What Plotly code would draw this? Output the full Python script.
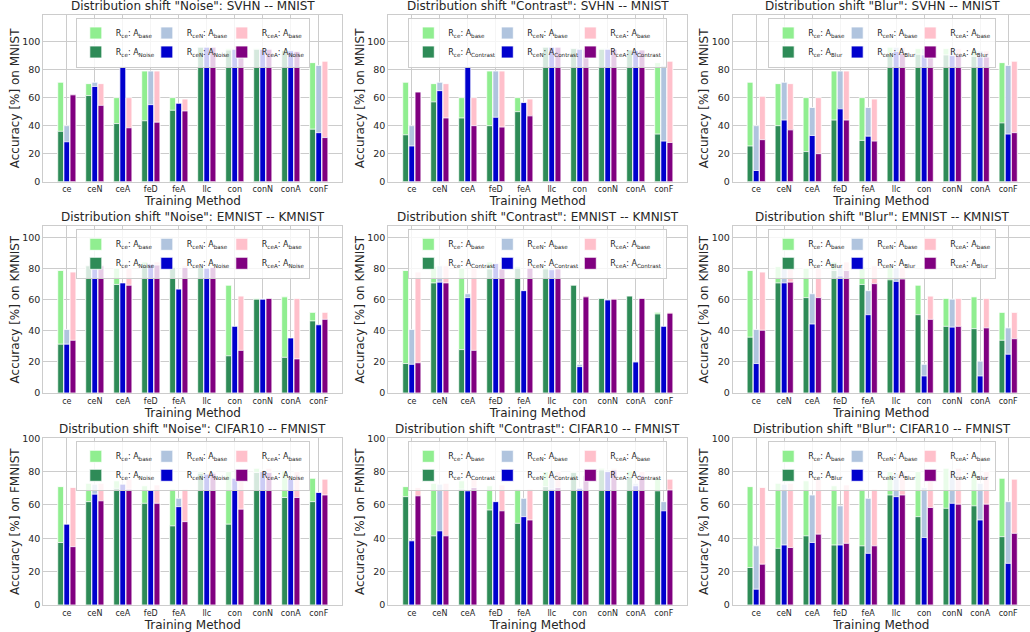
import plotly.graph_objects as go

# ---------------- data ----------------
categories = ["ce", "ceN", "ceA", "feD", "feA", "llc", "con", "conN", "conA", "conF"]
variants = ["ce", "ceN", "ceA"]
shifts = ["Noise", "Contrast", "Blur"]
pairs = ["SVHN -- MNIST", "EMNIST -- KMNIST", "CIFAR10 -- FMNIST"]
targets = ["MNIST", "KMNIST", "FMNIST"]
y_max = [119, 107.5, 100]

# Row 1: SVHN -- MNIST
svhn_base_ce = [71, 70, 60, 79, 60, 96, 95, 95, 94, 85]
svhn_base_ceN = [40, 71, 53, 79, 53, 96, 95, 95, 93.5, 83]
svhn_base_ceA = [61, 70, 60, 79, 59, 96, 95, 95, 93.5, 86]
svhn_noise_ce = [36, 61.5, 41.5, 43.5, 51, 96, 94, 94.5, 93.5, 37.5]
svhn_noise_ceN = [28.5, 68, 82, 55, 56, 96, 94.5, 94.5, 93.5, 35]
svhn_noise_ceA = [62, 54.5, 38.5, 42.5, 50.5, 96, 94, 94.5, 93, 31.5]
svhn_contrast_ce = [33.5, 57, 45.5, 40, 50, 96, 95, 94.5, 94, 34]
svhn_contrast_ceN = [25.5, 65, 82, 46, 56.5, 96, 94.5, 94.5, 93.5, 29]
svhn_contrast_ceA = [64, 45.5, 40, 39, 47, 96, 94.5, 94.5, 94, 28]
svhn_blur_ce = [25.5, 40, 21.5, 44, 29.5, 91.5, 91, 90.5, 89.5, 42]
svhn_blur_ceN = [8, 44, 33, 52, 32.5, 93, 90.5, 90, 89, 34]
svhn_blur_ceA = [30, 37, 20, 44, 29, 91.5, 91, 90.5, 89, 35]

# Row 2: EMNIST -- KMNIST
emnist_base_ce = [79, 81.5, 80.5, 84.5, 81.5, 81, 69.5, 61, 62, 52]
emnist_base_ceN = [41, 82, 64, 82, 66, 81, 18.5, 60.5, 20.5, 42]
emnist_base_ceA = [78, 82, 80.5, 84.5, 82, 81, 62.5, 61, 61, 52]
emnist_noise_ce = [31.5, 82, 70, 82.5, 81, 81, 24, 60.5, 23, 46.5]
emnist_noise_ceN = [31.5, 82, 71, 83, 67, 80.5, 43, 60.5, 35.5, 44]
emnist_noise_ceA = [34, 82, 69.5, 82.5, 81, 81, 27.5, 61, 22, 47.5]
emnist_contrast_ce = [19, 71, 28, 80, 80.5, 80, 69.5, 61, 62.5, 51]
emnist_contrast_ceN = [18.5, 71.5, 61.5, 83.5, 66, 79.5, 17, 60, 20, 43]
emnist_contrast_ceA = [19.5, 71, 27.5, 80, 80.5, 80, 62, 60.5, 61, 51.5]
emnist_blur_ce = [36, 71, 61.5, 79, 70, 73, 50.5, 43, 41.5, 34]
emnist_blur_ceN = [19, 71, 44.5, 75.5, 50.5, 72, 11, 42.5, 11, 25]
emnist_blur_ceA = [40.5, 71.5, 61.5, 79, 70.5, 73.5, 47.5, 43, 42, 35]

# Row 3: CIFAR10 -- FMNIST
cifar_base_ce = [71, 73, 74.5, 71.5, 69.5, 80, 80, 82, 80.5, 76]
cifar_base_ceN = [35.5, 72.5, 66, 59.5, 64, 79, 70.5, 81, 73, 62]
cifar_base_ceA = [70.5, 73, 75.5, 72, 69.5, 80, 78, 82, 80, 75.5]
cifar_noise_ce = [37.5, 62, 70, 61, 47.5, 79, 48.5, 79.5, 64.5, 62]
cifar_noise_ceN = [48.5, 66.5, 72.5, 69, 59, 78.5, 76, 80, 75.5, 67.5]
cifar_noise_ceA = [35, 62.5, 69.5, 61, 50, 79, 57.5, 79.5, 64.5, 66]
cifar_contrast_ce = [65, 41.5, 69.5, 57, 49, 71, 79.5, 81, 77, 68.5]
cifar_contrast_ceN = [38.5, 44.5, 68.5, 62, 53, 69.5, 70, 80, 71.5, 56.5]
cifar_contrast_ceA = [65.5, 41.5, 70.5, 56.5, 51, 70.5, 77.5, 81, 77.5, 69]
cifar_blur_ce = [22.5, 34, 41.5, 36, 35.5, 66, 53, 58, 59.5, 41]
cifar_blur_ceN = [9.5, 36, 37.5, 36, 31, 65, 40.5, 61, 51, 25]
cifar_blur_ceA = [24.5, 34.5, 42.5, 37, 35.5, 66, 58.5, 60.5, 60.5, 43]

base_rows = [
    [svhn_base_ce, svhn_base_ceN, svhn_base_ceA],
    [emnist_base_ce, emnist_base_ceN, emnist_base_ceA],
    [cifar_base_ce, cifar_base_ceN, cifar_base_ceA],
]
shift_rows = [
    [[svhn_noise_ce, svhn_noise_ceN, svhn_noise_ceA],
     [svhn_contrast_ce, svhn_contrast_ceN, svhn_contrast_ceA],
     [svhn_blur_ce, svhn_blur_ceN, svhn_blur_ceA]],
    [[emnist_noise_ce, emnist_noise_ceN, emnist_noise_ceA],
     [emnist_contrast_ce, emnist_contrast_ceN, emnist_contrast_ceA],
     [emnist_blur_ce, emnist_blur_ceN, emnist_blur_ceA]],
    [[cifar_noise_ce, cifar_noise_ceN, cifar_noise_ceA],
     [cifar_contrast_ce, cifar_contrast_ceN, cifar_contrast_ceA],
     [cifar_blur_ce, cifar_blur_ceN, cifar_blur_ceA]],
]

# ---------------- style ----------------
light_colors = ["#90EE90", "#B0C4DE", "#FFC0CB"]
dark_colors = ["#2E8B57", "#0000CD", "#800080"]
bar_w = 0.21
bar_centers = [-0.22, 0.0, 0.22]
# legend entry widths (px) per shift column, per legend group
legend_entry_w = [[26, 30, 42], [34, 38, 51], [24, 28, 40]]
FONT = "DejaVu Sans"
TXT = "#262626"
GRID = "#cccccc"

W, H = 1030, 632
col_left = [43.3, 388.3, 732.7]
plot_w = 299.0
row_top = [15.0, 226.3, 438.3]
plot_h = 166.7
px_per_unit = plot_w / 10.68

fig = go.Figure()
layout = dict(
    width=W, height=H,
    margin=dict(l=0, r=0, t=0, b=0, pad=0, autoexpand=False),
    paper_bgcolor="white", plot_bgcolor="white",
    barmode="overlay",
    font=dict(family=FONT, color=TXT),
    annotations=[],
)

for r in range(3):
    for c in range(3):
        i = r * 3 + c
        suf = "" if i == 0 else str(i + 1)
        xname, yname = "x" + suf, "y" + suf
        lname = "legend" + suf
        x0 = col_left[c]
        x1 = min(x0 + plot_w, W)
        y0 = row_top[r]
        xr_right = -0.84 + (x1 - x0) / px_per_unit
        for k, v in enumerate(variants):
            grp = f"{v}_{i}"
            lw = legend_entry_w[c][k]
            fig.add_trace(go.Bar(
                x=categories, y=base_rows[r][k],
                name=f"R<sub>{v}</sub>: A<sub>base</sub>",
                xaxis=xname, yaxis=yname, legend=lname, legendgroup=grp,
                legendwidth=lw,
                offset=bar_centers[k] - bar_w / 2, width=bar_w,
                marker=dict(color=light_colors[k], line=dict(color="white", width=0.8)),
            ))
            fig.add_trace(go.Bar(
                x=categories, y=shift_rows[r][c][k],
                name=f"R<sub>{v}</sub>: A<sub>{shifts[c]}</sub>",
                xaxis=xname, yaxis=yname, legend=lname, legendgroup=grp,
                legendwidth=lw,
                offset=bar_centers[k] - bar_w / 2, width=bar_w,
                marker=dict(color=dark_colors[k], line=dict(color="white", width=0.8)),
            ))
        layout["xaxis" + suf] = dict(
            domain=[x0 / W, x1 / W], anchor=yname,
            range=[-0.84, xr_right], type="category",
            showgrid=True, gridcolor=GRID, gridwidth=1,
            showline=True, linecolor=GRID, linewidth=1, mirror=True,
            ticks="", tickfont=dict(size=8, color=TXT),
            title=dict(text="Training Method", font=dict(size=12, color=TXT), standoff=0),
            zeroline=False, fixedrange=True, automargin=False,
        )
        layout["yaxis" + suf] = dict(
            domain=[1 - (y0 + plot_h) / H, 1 - y0 / H], anchor=xname,
            range=[0, y_max[r]], tickvals=[0, 20, 40, 60, 80, 100],
            showgrid=True, gridcolor=GRID, gridwidth=1,
            showline=True, linecolor=GRID, linewidth=1, mirror=True,
            ticks="", tickfont=dict(size=9.5, color=TXT),
            title=dict(text=f"Accuracy [%] on {targets[r]}", font=dict(size=12, color=TXT), standoff=0),
            zeroline=False, fixedrange=True, automargin=False,
        )
        cx = (x0 + x0 + plot_w) / 2
        layout[lname] = dict(
            orientation="h", x=cx / W, y=1 - (y0 + 2.5) / H,
            xanchor="center", yanchor="top", xref="paper", yref="paper",
            font=dict(size=8, color=TXT), bgcolor="rgba(255,255,255,0.8)",
            bordercolor=GRID, borderwidth=1, tracegroupgap=0, itemwidth=30,
        )
        layout["annotations"].append(dict(
            text=f'Distribution shift "{shifts[c]}": {pairs[r]}',
            x=cx / W, y=1 - y0 / H, xref="paper", yref="paper",
            xanchor="center", yanchor="bottom", yshift=0, showarrow=False,
            font=dict(size=12, color=TXT),
        ))

fig.update_layout(**layout)
fig.write_html(
    "out.html",
    config={"displayModeBar": False},
    post_script="document.body.style.margin='0px';document.body.style.overflow='hidden';",
)
